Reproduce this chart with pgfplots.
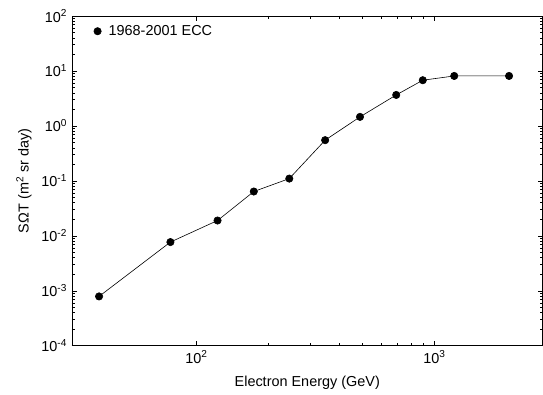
\documentclass[border=0pt]{standalone}
\usepackage{fontspec}
\setmainfont{Liberation Sans}
\usepackage{pgfplots}
\pgfplotsset{compat=1.18}
\begin{document}
\fontsize{14.5}{17}\selectfont
\begin{tikzpicture}
\begin{axis}[
  scale only axis,
  width=471bp, height=330bp,
  xmode=log, ymode=log,
  xmin=30, xmax=2850,
  ymin=1e-4, ymax=1e2,
  xtick={100,1000},
  ytick={1e-4,1e-3,1e-2,1e-1,1,1e1,1e2},
  log number format basis/.code 2 args={10\textsuperscript{\pgfmathprintnumber[assume math mode=true]{#2}}},
  tick align=inside,
  major tick length=5bp, minor tick length=3bp,
  tick style={black, line width=0.5pt},
  axis line style={line width=0.8pt},
  xlabel={Electron Energy (GeV)},
  ylabel={SΩT (m\textsuperscript{2} sr day)},
  ylabel style={yshift=0bp},
  xlabel style={yshift=-3bp},
  legend style={draw=none, fill=none, at={(0.035,0.985)}, anchor=north west, font=\fontsize{14.5}{17}\selectfont},
  legend cell align=left,
  legend image code/.code={\fill[black] (0.2cm,0cm) circle (3.7pt); \path (0cm,0cm) (0.51cm,0cm);},
]
\addplot[black, line width=0.6pt, mark=*, mark size=3.7pt] coordinates {
  (39.0, 7.9e-4)
  (77.8, 7.7e-3)
  (122.7, 0.019)
  (174.3, 0.064)
  (245.7, 0.110)
  (347.6, 0.55)
  (487, 1.46)
  (691.5, 3.66)
  (894, 6.78)
  (1212, 8.11)
  (2060, 8.11)
};
\addlegendentry{1968-2001 ECC}
\end{axis}
\path ([xshift=-72bp,yshift=-48bp]current axis.south west) rectangle ([yshift=16bp]current axis.north east);
\end{tikzpicture}
\end{document}
